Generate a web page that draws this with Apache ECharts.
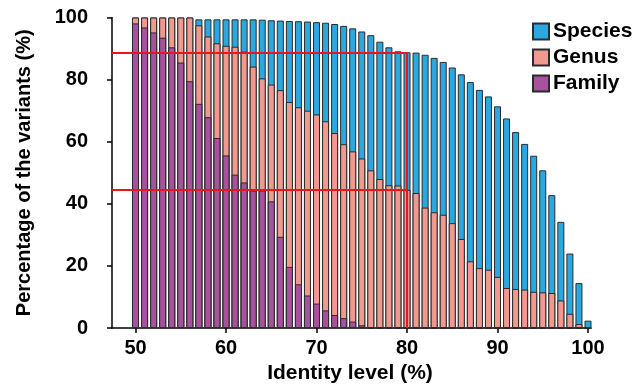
<!DOCTYPE html>
<html>
<head>
<meta charset="utf-8">
<script src="https://cdn.jsdelivr.net/npm/echarts@6/dist/echarts.min.js"></script>
<style>
  html, body { margin: 0; padding: 0; background: #fff; }
  #chart { width: 637px; height: 389px; }
</style>
</head>
<body>
<div id="chart"></div>
<script>
// identity levels 50..100 (%)
const identity = [50, 51, 52, 53, 54, 55, 56, 57, 58, 59, 60, 61, 62, 63, 64, 65, 66, 67, 68, 69, 70,
  71, 72, 73, 74, 75, 76, 77, 78, 79, 80, 81, 82, 83, 84, 85, 86, 87, 88, 89, 90,
  91, 92, 93, 94, 95, 96, 97, 98, 99, 100]

const species = [100, 100, 100, 100, 100, 100, 100, 99.4, 99.4, 99.4, 99.4, 99.4, 99.4, 99.4, 99.3, 99.1, 99.0, 98.9, 98.8, 98.7, 98.5,
  98.3, 97.9, 97.3, 96.5, 95.5, 94.3, 92.2, 90.4, 89.1, 88.8, 88.7, 88.0, 87.0, 85.7, 83.9, 81.7, 79.2, 76.7, 74.6, 71.4,
  67.5, 63.1, 59.3, 55.5, 50.8, 42.8, 34.2, 24.0, 14.5, 2.4]

const genus = [100, 100, 100, 100, 100, 100, 100, 97.5, 93.9, 91.7, 90.9, 90.6, 89.0, 84.2, 80.4, 78.4, 76.6, 72.8, 71.1, 70.0, 68.8,
  66.6, 62.8, 59.2, 56.9, 54.6, 50.8, 48.0, 46.0, 45.9, 44.5, 43.5, 38.8, 37.3, 36.5, 33.8, 28.7, 21.5, 19.3, 18.8, 16.5,
  12.9, 12.6, 12.4, 11.7, 11.5, 11.3, 8.9, 4.6, 1.3, 0]

const family = [98.1, 96.8, 95.2, 93.5, 90.4, 85.5, 79.5, 72.2, 67.9, 61.2, 55.6, 49.4, 46.9, 44.3, 44.3, 40.8, 29.4, 19.7, 14.1, 10.5, 7.9,
  5.7, 4.2, 3.2, 2.1, 0.9, 0, 0, 0, 0, 0, 0, 0, 0, 0, 0, 0, 0, 0, 0, 0,
  0, 0, 0, 0, 0, 0, 0, 0, 0, 0]

const xTicks = [50, 60, 70, 80, 90, 100]
const refIdentity = 80
const refLevels = [88.7, 44.5]

const font = 'Liberation Sans, Arial, sans-serif'

function pairs(vals) {
  return identity.map((x, i) => [x, vals[i]])
}

function barSeries(name, vals, color) {
  return {
    name: name,
    type: 'bar',
    data: pairs(vals),
    barWidth: 7,
    barGap: '-100%',
    itemStyle: { color: color, borderColor: '#2b2b2b', borderWidth: 1 },
    emphasis: { disabled: true },
    animation: false
  }
}

const chart = echarts.init(document.getElementById('chart'))

const refLines = refLevels.map(v => [{ coord: [47.4, v] }, { coord: [refIdentity, v] }])
refLines.push([{ coord: [refIdentity, 0] }, { coord: [refIdentity, refLevels[0]] }])

chart.setOption({
  grid: { left: 112, right: 49, top: 17.5, bottom: 60 },
  legend: {
    data: ['Species', 'Genus', 'Family'],
    orient: 'vertical',
    left: 527,
    top: 16,
    icon: 'rect',
    itemWidth: 16,
    itemHeight: 16,
    itemGap: 5,
    textStyle: { fontFamily: font, fontWeight: 'bold', fontSize: 21, color: '#000', padding: [0, 0, 0, -1] }
  },
  xAxis: {
    type: 'value',
    min: 47.4,
    max: 100,
    name: 'Identity level (%)',
    nameLocation: 'middle',
    nameGap: 34,
    nameTextStyle: { fontFamily: font, fontWeight: 'bold', fontSize: 21, color: '#000' },
    axisLine: { lineStyle: { color: '#000', width: 1.5 } },
    axisTick: { customValues: xTicks, length: 5, lineStyle: { color: '#000', width: 1.5 } },
    axisLabel: { customValues: xTicks, margin: 10, fontFamily: font, fontWeight: 'bold', fontSize: 20, color: '#000' },
    splitLine: { show: false }
  },
  yAxis: {
    type: 'value',
    min: 0,
    max: 100,
    interval: 20,
    name: 'Percentage of the variants (%)',
    nameLocation: 'middle',
    nameGap: 78,
    nameTextStyle: { fontFamily: font, fontWeight: 'bold', fontSize: 20, color: '#000' },
    axisLine: { show: true, lineStyle: { color: '#000', width: 1.5 } },
    axisTick: { show: true, length: 5, lineStyle: { color: '#000', width: 1.5 } },
    axisLabel: { margin: 24, fontFamily: font, fontWeight: 'bold', fontSize: 20, color: '#000' },
    splitLine: { show: false }
  },
  series: [
    barSeries('Species', species, '#2ba8e0'),
    barSeries('Genus', genus, '#f1998f'),
    barSeries('Family', family, '#a8519f'),
    {
      type: 'line',
      data: [],
      z: 10,
      silent: true,
      markLine: {
        symbol: 'none',
        silent: true,
        animation: false,
        label: { show: false },
        lineStyle: { color: '#e8161f', width: 2, type: 'solid' },
        data: refLines
      }
    }
  ]
})
</script>
</body>
</html>
